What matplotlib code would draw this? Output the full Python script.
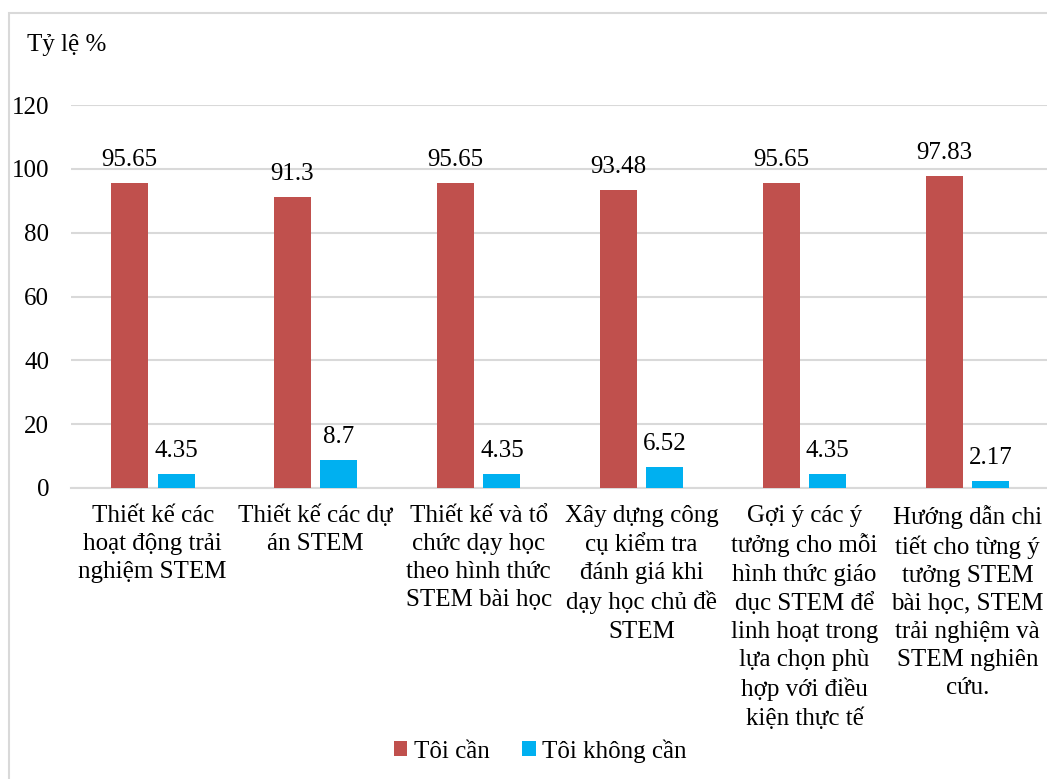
import numpy as np
import matplotlib
matplotlib.use("Agg")
import matplotlib.pyplot as plt
from matplotlib.patches import Rectangle

# Data
categories = [
    "Thiết kế các\nhoạt động trải\nnghiệm STEM",
    "Thiết kế các dự\nán STEM",
    "Thiết kế và tổ\nchức dạy học\ntheo hình thức\nSTEM bài học",
    "Xây dựng công\ncụ kiểm tra\nđánh giá khi\ndạy học chủ đề\nSTEM",
    "Gợi ý các ý\ntưởng cho mỗi\nhình thức giáo\ndục STEM để\nlinh hoạt trong\nlựa chọn phù\nhợp với điều\nkiện thực tế",
    "Hướng dẫn chi\ntiết cho từng ý\ntưởng STEM\nbài học, STEM\ntrải nghiệm và\nSTEM nghiên\ncứu.",
]
need = [95.65, 91.3, 95.65, 93.48, 95.65, 97.83]
no_need = [4.35, 8.7, 4.35, 6.52, 4.35, 2.17]
series_names = ["Tôi cần", "Tôi không cần"]
y_ticks = [0, 20, 40, 60, 80, 100, 120]

RED = "#C0504D"
BLUE = "#00B0F0"
GRID = "#D9D9D9"

plt.rcParams["font.family"] = ["Liberation Serif", "DejaVu Serif"]

W, H = 1047, 779
fig = plt.figure(figsize=(W / 100, H / 100), dpi=100)
ax = fig.add_axes([71.25 / W, 1 - 488 / H, (1049 - 71.25) / W, (488 - 105) / H])

x = np.arange(len(categories))
width = 0.227
offset = 0.143

b1 = ax.bar(x - offset, need, width, color=RED, label=series_names[0], zorder=3)
b2 = ax.bar(x + offset, no_need, width, color=BLUE, label=series_names[1], zorder=3)

def fmt(v):
    return f"{v:g}"

ax.bar_label(b1, labels=[fmt(v) for v in need], padding=8.5, fontsize=18)
ax.bar_label(b2, labels=[fmt(v) for v in no_need], padding=8.5, fontsize=18)

ax.set_xlim(-0.5, len(categories) - 0.5)
ax.set_ylim(0, 120)
ax.set_yticks(y_ticks)
ax.set_yticklabels([str(t) for t in y_ticks], fontsize=18)
ax.set_xticks(x)
ax.set_xticklabels(categories, fontsize=18, linespacing=1.36, ha="center")
ax.tick_params(axis="both", length=0)
ax.tick_params(axis="y", pad=16)
ax.tick_params(axis="x", pad=12)

ax.grid(axis="y", color=GRID, linewidth=1.5, zorder=0)
for side in ["top", "right", "left"]:
    ax.spines[side].set_visible(False)
ax.spines["bottom"].set_color(GRID)
ax.spines["bottom"].set_linewidth(1.5)

fig.text(27 / W, 1 - 45 / H, "Tỷ lệ %", fontsize=18, va="center", ha="left")

fig.legend(loc="center", bbox_to_anchor=(540 / W, 1 - 751 / H), ncol=2, frameon=False,
           fontsize=18, handlelength=0.55, handleheight=0.55, handletextpad=0.25,
           columnspacing=1.3)

# chart area border (cropped on right/bottom in the reference)
fig.patches.append(Rectangle((9 / W, -0.1), 1.2, 1 - 13 / H + 0.1, transform=fig.transFigure,
                             fill=False, edgecolor=GRID, linewidth=1.5))

fig.savefig("out.png", dpi=100)
